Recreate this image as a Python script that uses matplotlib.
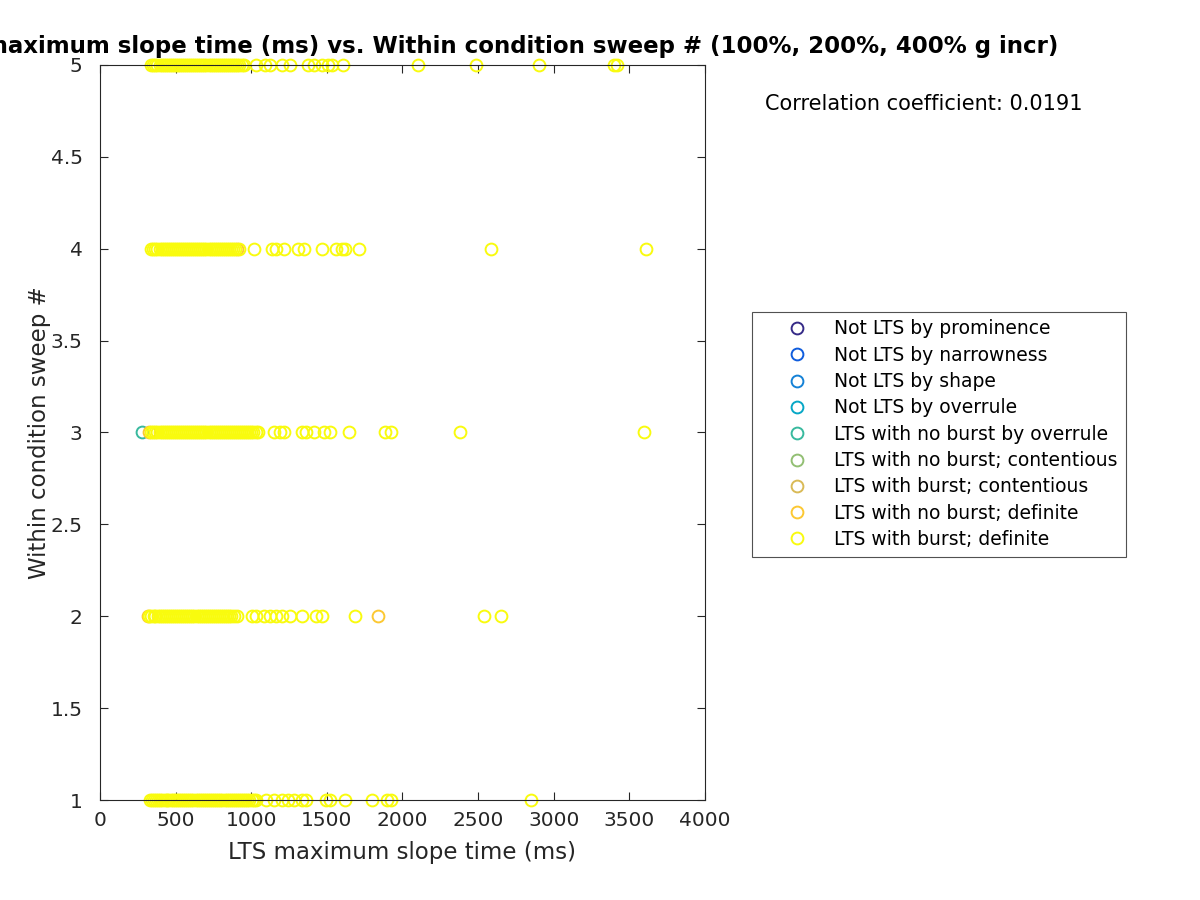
import numpy as np
import matplotlib.pyplot as plt

# legend categories and their colours (parula-like)
labels = ['Not LTS by prominence', 'Not LTS by narrowness', 'Not LTS by shape',
          'Not LTS by overrule', 'LTS with no burst by overrule',
          'LTS with no burst; contentious', 'LTS with burst; contentious',
          'LTS with no burst; definite', 'LTS with burst; definite']
colors = ['#352a87', '#0f5cdd', '#1481d6', '#06a7c6', '#38b99e',
          '#92bf73', '#d9ba56', '#fcc832', '#f9fb0e']

# LTS with no burst by overrule
ovr_x = [278]
ovr_y = [3]

# LTS with no burst; definite
nbd_x = [318, 1840, 325, 905]
nbd_y = [2, 2, 3, 4]

# LTS with burst; definite, one list per sweep number
bd_x1 = [332, 345, 359, 371, 386, 398, 413, 427, 440, 452, 467, 481, 494, 508,
         521, 536, 549, 563, 577, 590, 604, 618, 632, 645, 659, 673, 686, 700,
         714, 728, 741, 755, 769, 782, 796, 810, 824, 837, 851, 865, 878, 892,
         906, 920, 933, 947, 961, 975, 988, 1002, 1016, 1034,
         1100, 1152, 1204, 1244, 1283, 1335, 1361, 1492, 1518, 1618, 1796,
         1898, 1924, 2848]
bd_x2 = [327, 340, 354, 367, 381, 394, 408, 421, 435, 449, 462, 476, 489, 503,
         516, 530, 544, 557, 571, 584, 598, 611, 625, 639, 652, 666, 679, 693,
         706, 720, 734, 747, 761, 774, 788, 801, 815, 829, 842, 856, 869, 883,
         903,
         1008, 1034, 1086, 1126, 1165, 1204, 1257, 1335, 1427, 1466, 1689,
         2540, 2652]
bd_x3 = [340, 353, 367, 380, 394, 407, 421, 434, 448, 461, 475, 488, 502, 515,
         529, 542, 556, 569, 583, 596, 610, 623, 637, 650, 664, 677, 691, 704,
         718, 731, 745, 758, 772, 785, 799, 812, 826, 839, 853, 866, 880, 893,
         907, 920, 934, 947, 961, 974, 988, 1001, 1015, 1030, 1047,
         1152, 1191, 1217, 1335, 1361, 1414, 1479, 1518, 1644, 1885, 1924,
         2377, 3594]
bd_x4 = [340, 353, 367, 380, 394, 407, 421, 434, 448, 461, 475, 488, 502, 515,
         529, 542, 556, 569, 583, 596, 610, 623, 637, 650, 664, 677, 691, 704,
         718, 731, 745, 758, 772, 785, 799, 812, 826, 839, 853, 866, 880, 895,
         916,
         1021, 1139, 1165, 1217, 1309, 1348, 1466, 1558, 1597, 1623, 1715,
         2584, 3608]
bd_x5 = [340, 353, 367, 380, 394, 407, 421, 434, 448, 461, 475, 488, 502, 515,
         529, 542, 556, 569, 583, 596, 610, 623, 637, 650, 664, 677, 691, 704,
         718, 731, 745, 758, 772, 785, 799, 812, 826, 839, 853, 866, 880, 893,
         907, 920, 937, 955,
         1034, 1090, 1126, 1204, 1257, 1374, 1414, 1466, 1505, 1531, 1610,
         2102, 2487, 2900, 3400, 3415]

corr = 0.0191

bd_x = bd_x1 + bd_x2 + bd_x3 + bd_x4 + bd_x5
bd_y = ([1] * len(bd_x1) + [2] * len(bd_x2) + [3] * len(bd_x3)
        + [4] * len(bd_x4) + [5] * len(bd_x5))

xs = [[], [], [], [], ovr_x, [], [], nbd_x, bd_x]
ys = [[], [], [], [], ovr_y, [], [], nbd_y, bd_y]

plt.rcParams['font.family'] = 'DejaVu Sans'
dark = '#262626'

fig = plt.figure(figsize=(12, 9), dpi=100)
ax = fig.add_axes([0.0833, 0.1111, 0.5042, 0.8167])

for x, y, c, lab in zip(xs, ys, colors, labels):
    ax.plot(x, y, ls='none', marker='o', ms=8.5, mfc='none', mec=c,
            mew=1.4, label=lab, clip_on=False)

ax.set_xlim(0, 4000)
ax.set_ylim(1, 5)
ax.set_xticks(np.arange(0, 4001, 500))
ax.set_yticks([1, 1.5, 2, 2.5, 3, 3.5, 4, 4.5, 5])
ax.set_yticklabels(['1', '1.5', '2', '2.5', '3', '3.5', '4', '4.5', '5'])
ax.tick_params(direction='in', length=6, width=0.8, colors=dark,
               labelsize=14.5, top=True, right=True)
ax.tick_params(axis='x', pad=8)
ax.tick_params(axis='y', pad=12.5)
for s in ax.spines.values():
    s.set_color(dark)
    s.set_linewidth(0.8)

ax.set_xlabel('LTS maximum slope time (ms)', fontsize=16.5, color=dark,
              labelpad=8)
ax.set_ylabel('Within condition sweep #', fontsize=16.5, color=dark,
              labelpad=0)

# title runs off the left edge of the figure, as in the original
fig.text(1058 / 1200, 1 - 47 / 900,
         'LTS maximum slope time (ms) vs. Within condition sweep # '
         '(100%, 200%, 400% g incr)', fontsize=16.5, fontweight='bold',
         ha='right', va='center')

fig.text(765 / 1200, 1 - 104 / 900, 'Correlation coefficient: %.4f' % corr,
         fontsize=15, va='center', ha='left')

leg = ax.legend(loc='upper left', bbox_to_anchor=(752 / 1200, 1 - 312 / 900),
                bbox_transform=fig.transFigure, borderaxespad=0,
                fontsize=13.5, frameon=True, fancybox=False,
                edgecolor=dark, labelspacing=0.39, handlelength=4.0,
                handletextpad=0.0, borderpad=0.4)
leg.get_frame().set_linewidth(0.8)

fig.savefig('out.png', dpi=100)
